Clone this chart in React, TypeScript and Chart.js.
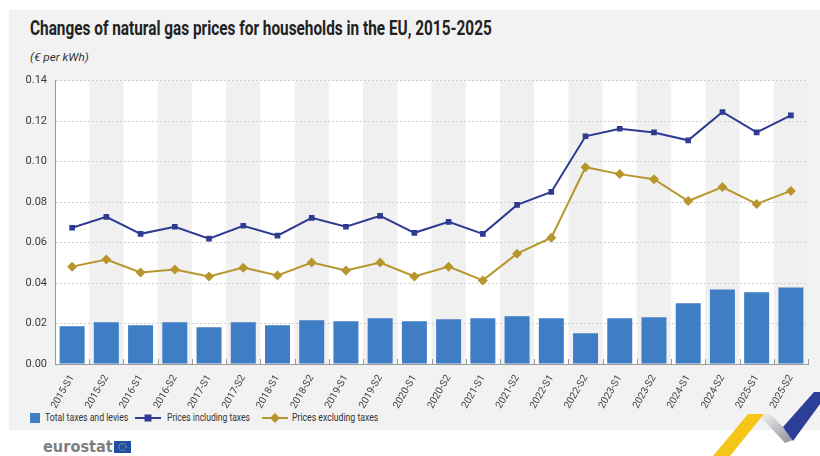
import React, { useEffect, useLayoutEffect, useRef } from "react";
import { Chart, registerables } from "chart.js";

Chart.register(...registerables);

const categories = [
  "2015-S1", "2015-S2", "2016-S1", "2016-S2", "2017-S1", "2017-S2", "2018-S1", "2018-S2",
  "2019-S1", "2019-S2", "2020-S1", "2020-S2", "2021-S1", "2021-S2", "2022-S1", "2022-S2",
  "2023-S1", "2023-S2", "2024-S1", "2024-S2", "2025-S1", "2025-S2",
];
const taxesAndLevies = [
  0.0187, 0.0206, 0.0192, 0.0206, 0.0182, 0.0206, 0.0192, 0.0216,
  0.0211, 0.0226, 0.0211, 0.0221, 0.0226, 0.0236, 0.0226, 0.0152,
  0.0226, 0.0231, 0.0300, 0.0368, 0.0354, 0.0378,
];
const pricesInclTaxes = [
  0.0673, 0.0727, 0.0643, 0.0678, 0.0619, 0.0683, 0.0634, 0.0722,
  0.0678, 0.0732, 0.0648, 0.0702, 0.0643, 0.0786, 0.0850, 0.1125,
  0.1162, 0.1144, 0.1105, 0.1245, 0.1144, 0.1228,
];
const pricesExclTaxes = [
  0.0481, 0.0516, 0.0452, 0.0467, 0.0432, 0.0476, 0.0437, 0.0501,
  0.0462, 0.0501, 0.0432, 0.0481, 0.0413, 0.0545, 0.0624, 0.0972,
  0.0938, 0.0913, 0.0805, 0.0874, 0.0791, 0.0855,
];
const yTicks = [0, 0.02, 0.04, 0.06, 0.08, 0.1, 0.12, 0.14];

const BAR_COLOR = "#3f7dc5";
const INCL_COLOR = "#2e3b91";
const EXCL_COLOR = "#b8962e";
const FONT = "Roboto, 'DejaVu Sans', sans-serif";

const bandsPlugin = {
  id: "bands",
  beforeDraw(chart: any) {
    const { ctx, chartArea, scales } = chart;
    const x = scales.x;
    ctx.save();
    ctx.fillStyle = "#ffffff";
    ctx.fillRect(chartArea.left, chartArea.top, chartArea.right - chartArea.left, chartArea.bottom - chartArea.top);
    ctx.fillStyle = "#f0f0f0";
    const n = categories.length;
    const w = (chartArea.right - chartArea.left) / n;
    for (let i = 1; i < n; i += 2) {
      const c = x.getPixelForValue(i);
      ctx.fillRect(c - w / 2, chartArea.top, w, chartArea.bottom - chartArea.top);
    }
    ctx.restore();
  },
  afterDraw(chart: any) {
    const { ctx, chartArea, scales } = chart;
    const x = scales.x;
    const n = categories.length;
    const w = (chartArea.right - chartArea.left) / n;
    ctx.save();
    ctx.strokeStyle = "#9a9a9a";
    ctx.lineWidth = 1;
    ctx.beginPath();
    for (let i = 0; i < n; i++) {
      const b = Math.round(x.getPixelForValue(i) + w / 2) + 0.5;
      ctx.moveTo(b, chartArea.bottom - 5);
      ctx.lineTo(b, chartArea.bottom);
    }
    ctx.stroke();
    ctx.restore();
  },
};

function FitText(props: { text: string; width: number; left: number; top: number; style: React.CSSProperties }) {
  const ref = useRef<HTMLSpanElement | null>(null);
  useLayoutEffect(() => {
    const el = ref.current;
    if (!el) return;
    const w = el.offsetWidth;
    if (w > 0) el.style.transform = `scaleX(${props.width / w})`;
  }, [props.text, props.width]);
  return (
    <span
      ref={ref}
      style={{
        position: "absolute",
        left: props.left,
        top: props.top,
        whiteSpace: "nowrap",
        transformOrigin: "0 0",
        display: "inline-block",
        ...props.style,
      }}
    >
      {props.text}
    </span>
  );
}

export default function App() {
  const ref = useRef<HTMLCanvasElement | null>(null);

  useEffect(() => {
    document.body.style.margin = "0";
    const canvas = ref.current;
    if (!canvas) return;
    const chart = new Chart(canvas, {
      type: "bar",
      data: {
        labels: categories,
        datasets: [
          {
            type: "line",
            label: "Prices including taxes",
            data: pricesInclTaxes,
            borderColor: INCL_COLOR,
            backgroundColor: INCL_COLOR,
            borderWidth: 2,
            pointStyle: "rect",
            pointRadius: 4,
            pointBorderWidth: 0,
            order: 1,
          } as any,
          {
            type: "line",
            label: "Prices excluding taxes",
            data: pricesExclTaxes,
            borderColor: EXCL_COLOR,
            backgroundColor: EXCL_COLOR,
            borderWidth: 2,
            pointStyle: "rectRot",
            pointRadius: 5,
            pointBorderWidth: 0,
            order: 2,
          } as any,
          {
            type: "bar",
            label: "Total taxes and levies",
            data: taxesAndLevies,
            backgroundColor: BAR_COLOR,
            barPercentage: 0.73,
            categoryPercentage: 1,
            order: 3,
          },
        ],
      },
      options: {
        responsive: false,
        animation: false,
        layout: { padding: { top: 2, right: 12, bottom: 0, left: 0 } },
        plugins: {
          legend: { display: false },
          tooltip: { enabled: false },
        },
        scales: {
          x: {
            offset: true,
            grid: { display: false },
            border: { color: "#9a9a9a", width: 1 },
            ticks: {
              minRotation: 60,
              maxRotation: 60,
              color: "#444",
              font: { family: FONT, size: 10 },
              padding: 1,
            },
            afterFit(scale: any) {
              scale.height = 46;
            },
          },
          y: {
            min: 0,
            max: 0.14,
            afterBuildTicks(scale: any) {
              scale.ticks = yTicks.map((v) => ({ value: v }));
            },
            grid: {
              color: "#d0d0d0",
              drawTicks: false,
              lineWidth: 1,
            },
            border: { color: "#9a9a9a", width: 1, dash: [2, 2] },
            ticks: {
              color: "#3a3a3a",
              font: { family: FONT, size: 11 },
              padding: 8,
              callback: (v: any) => Number(v).toFixed(2),
            },
            afterFit(scale: any) {
              scale.width = 46;
            },
          },
        },
      },
      plugins: [bandsPlugin],
    });
    return () => chart.destroy();
  }, []);

  const legendText: React.CSSProperties = {
    fontFamily: FONT,
    fontSize: 11,
    lineHeight: "11px",
    color: "#333",
  };

  return (
    <div style={{ position: "relative", width: 820, height: 456, background: "#ffffff", overflow: "hidden" }}>
      <div style={{ position: "absolute", left: 9, top: 10, width: 811, height: 420, background: "#f2f2f2" }} />
      <FitText
        text="Changes of natural gas prices for households in the EU, 2015-2025"
        width={462}
        left={30}
        top={18}
        style={{ fontFamily: FONT, fontWeight: "bold", fontSize: 20, lineHeight: "20px", color: "#222" }}
      />
      <FitText
        text="(€ per kWh)"
        width={59}
        left={30}
        top={52}
        style={{ fontFamily: FONT, fontStyle: "italic", fontSize: 11, lineHeight: "11px", color: "#333" }}
      />
      <canvas ref={ref} width={811} height={344} style={{ position: "absolute", left: 9, top: 66 }} />
      <span style={{ position: "absolute", left: 30, top: 413, width: 10, height: 10, background: BAR_COLOR }} />
      <FitText text="Total taxes and levies" width={83} left={45} top={412} style={legendText} />
      <svg width={26} height={10} style={{ position: "absolute", left: 135, top: 413 }}>
        <line x1={0} y1={5} x2={26} y2={5} stroke={INCL_COLOR} strokeWidth={2} />
        <rect x={9.5} y={1.5} width={7} height={7} fill={INCL_COLOR} />
      </svg>
      <FitText text="Prices including taxes" width={83} left={167} top={412} style={legendText} />
      <svg width={26} height={10} style={{ position: "absolute", left: 262, top: 413 }}>
        <line x1={0} y1={5} x2={26} y2={5} stroke={EXCL_COLOR} strokeWidth={2} />
        <polygon points="13,0 18,5 13,10 8,5" fill={EXCL_COLOR} />
      </svg>
      <FitText text="Prices excluding taxes" width={86} left={292} top={412} style={legendText} />
      <FitText
        text="eurostat"
        width={70}
        left={43}
        top={439}
        style={{ fontFamily: "'DejaVu Sans', sans-serif", fontWeight: "bold", fontSize: 16, lineHeight: "16px", color: "#7f7f7f" }}
      />
      <svg width={17} height={12} style={{ position: "absolute", left: 114, top: 441 }}>
        <rect x={0} y={0} width={17} height={12} fill="#1f4fa3" />
        <circle cx={8.5} cy={6} r={3.5} fill="none" stroke="#e7c83a" strokeWidth={1} strokeDasharray="1 1" />
      </svg>
      <svg width={820} height={456} style={{ position: "absolute", left: 0, top: 0, pointerEvents: "none" }}>
        <defs>
          <linearGradient id="fold" x1="0" y1="0" x2="1" y2="1">
            <stop offset="0" stopColor="#f4f4f4" />
            <stop offset="1" stopColor="#8c8c96" />
          </linearGradient>
        </defs>
        <polygon points="758,414 770,414 795,439 785,443" fill="url(#fold)" />
        <polygon points="713,456 748,414 764,414 730,456" fill="#f5c518" />
        <polygon points="783,427 814,392 820,392 820,404 793,441" fill="#2c3e95" />
      </svg>
    </div>
  );
}
